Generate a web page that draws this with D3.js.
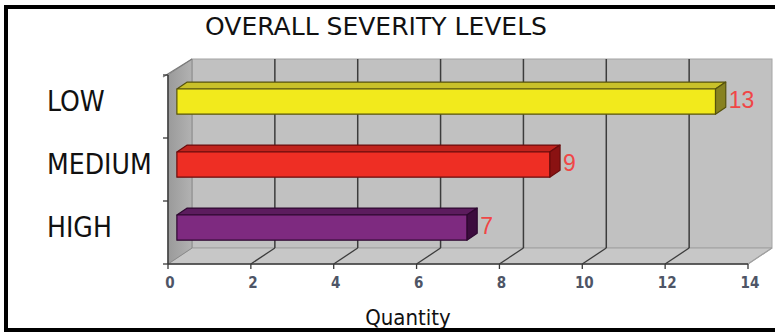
<!DOCTYPE html>
<html>
<head>
<meta charset="utf-8">
<script src="https://cdn.jsdelivr.net/npm/d3@7"></script>
<style>
  html, body { margin: 0; padding: 0; background: #fff; }
  svg { display: block; }
</style>
</head>
<body>
<svg id="chart" width="775" height="333"></svg>
<script>
// chart data
const categories = ["LOW", "MEDIUM", "HIGH"];
const quantities = [13, 9, 7];
const frontColors = ["#f2ea1c", "#ee2e24", "#7e2a80"];
const topColors = ["#c9c129", "#c0231d", "#5c1c5e"];
const sideColors = ["#878220", "#8a1212", "#3c0c3e"];
const edgeColors = ["#56520c", "#6a0c0c", "#2e0830"];
const tickValues = [0, 2, 4, 6, 8, 10, 12, 14];

const svg = d3.select("#chart");
const FONT = "'DejaVu Sans Condensed', 'DejaVu Sans', sans-serif";

// 3d depth offset of the back wall
const DX = 24, DY = 16;
const x = d3.scaleLinear().domain([0, 14]).range([168, 748]);
const y = d3.scaleBand().domain(categories).range([75, 264])
  .paddingInner(0.6).paddingOuter(0.3);
const yTop = 75, yBot = 264;

// projection: value, front y, depth fraction
const P = (v, py, z) => [x(v) + z * DX, py - z * DY];
const poly = (pts) => "M" + pts.map(p => p.join(",")).join("L") + "Z";

const defs = svg.append("defs");
const g1 = defs.append("linearGradient").attr("id", "sideWall")
  .attr("x1", "0").attr("x2", "1").attr("y1", "0").attr("y2", "0");
g1.append("stop").attr("offset", "0").attr("stop-color", "#9a9a9a");
g1.append("stop").attr("offset", "1").attr("stop-color", "#b2b2b2");

// back wall
svg.append("rect")
  .attr("x", x(0) + DX).attr("y", yTop - DY)
  .attr("width", x(14) - x(0)).attr("height", yBot - yTop)
  .attr("fill", "#c1c1c1").attr("stroke", "#a4a4a4").attr("stroke-width", 1);

// floor
svg.append("path")
  .attr("d", poly([P(0, yBot, 0), P(0, yBot, 1), P(14, yBot, 1), P(14, yBot, 0)]))
  .attr("fill", "#c7c7c7").attr("stroke", "#a0a0a0").attr("stroke-width", 1);

// left side wall
svg.append("path")
  .attr("d", poly([P(0, yTop, 0), P(0, yTop, 1), P(0, yBot, 1), P(0, yBot, 0)]))
  .attr("fill", "url(#sideWall)").attr("stroke", "#8a8a8a").attr("stroke-width", 1);

// wall grid lines
svg.append("g").selectAll("line")
  .data(tickValues.filter(v => v > 0 && v < 14))
  .join("line")
  .attr("x1", v => P(v, yTop, 1)[0]).attr("x2", v => P(v, yTop, 1)[0])
  .attr("y1", yTop - DY).attr("y2", yBot - DY)
  .attr("stroke", "#3c3c3c").attr("stroke-width", 1.5);

// floor grid lines
svg.append("g").selectAll("line")
  .data(tickValues.filter(v => v > 0))
  .join("line")
  .attr("x1", v => P(v, yBot, 0)[0]).attr("y1", yBot)
  .attr("x2", v => P(v, yBot, 1)[0]).attr("y2", yBot - DY)
  .attr("stroke", v => v === 14 ? "#a0a0a0" : "#3c3c3c").attr("stroke-width", 1.3);

// axes lines
const axisCol = "#3a3a3a";
svg.append("line").attr("x1", x(0)).attr("x2", x(14)).attr("y1", yBot).attr("y2", yBot)
  .attr("stroke", axisCol).attr("stroke-width", 1.5);
svg.append("line").attr("x1", x(0)).attr("x2", x(0)).attr("y1", yTop).attr("y2", yBot)
  .attr("stroke", axisCol).attr("stroke-width", 1.5);
svg.append("line").attr("x1", x(0) - 5).attr("y1", yTop + 2)
  .attr("x2", P(0, yTop, 1)[0]).attr("y2", yTop - DY)
  .attr("stroke", "#7a7a7a").attr("stroke-width", 1.2);

// category ticks on the left
const yTicks = [yTop].concat(categories.map(c => y(c) + y.bandwidth() + y.step() * y.paddingInner() / 2));
svg.append("g").selectAll("line").data(yTicks).join("line")
  .attr("x1", x(0) - 5).attr("x2", x(0))
  .attr("y1", d => d).attr("y2", d => d)
  .attr("stroke", axisCol).attr("stroke-width", 1.3);

// value ticks
svg.append("g").selectAll("line").data(tickValues).join("line")
  .attr("x1", v => x(v)).attr("x2", v => x(v))
  .attr("y1", yBot).attr("y2", yBot + 5)
  .attr("stroke", axisCol).attr("stroke-width", 1.3);

svg.append("g").selectAll("text").data(tickValues).join("text")
  .attr("x", v => x(v) + 2).attr("y", yBot + 24)
  .attr("text-anchor", "middle")
  .attr("font-family", FONT).attr("font-size", 15).attr("font-weight", "bold")
  .attr("fill", "#4e5566")
  .text(v => v);

// bars
const zF = 0.37, zB = 0.8;
const bars = svg.append("g");
categories.forEach((c, i) => {
  const v = quantities[i];
  const top = y(c) + 1, bot = y(c) + y.bandwidth() + 1;
  const g = bars.append("g").attr("stroke", edgeColors[i]).attr("stroke-width", 1.2)
    .attr("stroke-linejoin", "round");
  g.append("path")
    .attr("d", poly([P(0, top, zF), P(0, top, zB), P(v, top, zB), P(v, top, zF)]))
    .attr("fill", topColors[i]);
  g.append("path")
    .attr("d", poly([P(v, top, zF), P(v, top, zB), P(v, bot, zB), P(v, bot, zF)]))
    .attr("fill", sideColors[i]);
  g.append("path")
    .attr("d", poly([P(0, top, zF), P(v, top, zF), P(v, bot, zF), P(0, bot, zF)]))
    .attr("fill", frontColors[i]);
  bars.append("text")
    .attr("x", P(v, top, zB)[0] + 3)
    .attr("y", (top + bot) / 2 - 8)
    .attr("dominant-baseline", "central")
    .attr("font-family", "'Liberation Sans', Arial, sans-serif").attr("font-size", 23)
    .attr("fill", "#f04646")
    .text(v);
});

// category labels
svg.append("g").selectAll("text").data(categories).join("text")
  .attr("x", 47).attr("y", c => y(c) + y.bandwidth() / 2 - 5)
  .attr("dominant-baseline", "central")
  .attr("font-family", FONT).attr("font-size", 28)
  .attr("fill", "#111")
  .text(c => c);

// title and axis title
svg.append("text").attr("x", 376).attr("y", 35).attr("text-anchor", "middle")
  .attr("font-family", "'DejaVu Sans', sans-serif").attr("font-size", 24).attr("fill", "#111")
  .attr("textLength", 342).attr("lengthAdjust", "spacingAndGlyphs")
  .text("OVERALL SEVERITY LEVELS");
svg.append("text").attr("x", 408).attr("y", 325).attr("text-anchor", "middle")
  .attr("font-family", FONT).attr("font-size", 22).attr("fill", "#111")
  .text("Quantity");

// frame
svg.append("path")
  .attr("d", "M775,7 L6,7 L6,330 L775,330")
  .attr("fill", "none").attr("stroke", "#000").attr("stroke-width", 4);
</script>
</body>
</html>
